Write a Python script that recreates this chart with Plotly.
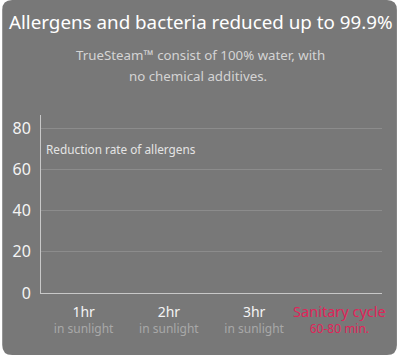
import plotly.graph_objects as go

categories = ["1hr", "2hr", "3hr", "Sanitary cycle"]
sublabels = ["in sunlight", "in sunlight", "in sunlight", "60-80 min."]
values = [0, 0, 0, 0]
yticks = [0, 20, 40, 60, 80]
title = "Allergens and bacteria reduced up to 99.9%"
subtitle_lines = ["TrueSteam\u2122 consist of 100% water, with", "no chemical additives."]
series_label = "Reduction rate of allergens"

W, H = 397, 355
L, R, T, B = 39, 15, 115, 62
pw, ph = W - L - R, H - T - B

def px(x):
    return (x - L) / pw

def py(y):
    return (H - B - y) / ph

FONT = "Noto Sans"
BG = "#787878"
RED = "#e0245a"

ticktext = []
for i, (c, s) in enumerate(zip(categories, sublabels)):
    if i == len(categories) - 1:
        ticktext.append(f"<span style='font-size:14.5px;color:{RED}'>{c}</span><br><span style='font-size:12px;color:{RED}'>{s}</span>")
    else:
        ticktext.append(f"<span style='font-size:14px;color:#f4f4f4'>{c}</span><br><span style='font-size:12px;color:#a8a8a8'>{s}</span>")

fig = go.Figure(go.Bar(x=categories, y=values, marker=dict(color="#c4184a", line=dict(width=0)),
                       width=0.5, hoverinfo="skip"))

# rounded background panel
r = 10
x0, x1, y0, y1 = 0, W, 0, H
path = (f"M {px(x0 + r)},{py(y0)} L {px(x1 - r)},{py(y0)} Q {px(x1)},{py(y0)} {px(x1)},{py(y0 + r)} "
        f"L {px(x1)},{py(y1 - r)} Q {px(x1)},{py(y1)} {px(x1 - r)},{py(y1)} "
        f"L {px(x0 + r)},{py(y1)} Q {px(x0)},{py(y1)} {px(x0)},{py(y1 - r)} "
        f"L {px(x0)},{py(y0 + r)} Q {px(x0)},{py(y0)} {px(x0 + r)},{py(y0)} Z")

fig.update_layout(
    width=W, height=H,
    margin=dict(l=L, r=R, t=T, b=B, pad=0),
    paper_bgcolor="white",
    plot_bgcolor="rgba(0,0,0,0)",
    showlegend=False,
    font=dict(family=FONT, color="#f0f0f0"),
    shapes=[dict(type="path", path=path, xref="paper", yref="paper",
                 fillcolor=BG, line=dict(width=0), layer="below")],
    xaxis=dict(
        tickmode="array", tickvals=categories, ticktext=ticktext,
        showgrid=False, showline=True, linecolor="#c8c8c8", linewidth=1,
        ticks="", tickfont=dict(size=12, family=FONT), ticklabelstandoff=9,
        fixedrange=True,
    ),
    yaxis=dict(
        range=[0, 86.5], tickvals=yticks, showgrid=True, gridcolor="#8c8c8c", gridwidth=1,
        showline=True, linecolor="#c8c8c8", linewidth=1, zeroline=False,
        ticks="outside", ticklen=6, tickcolor="rgba(0,0,0,0)",
        tickfont=dict(size=16, color="#f4f4f4", family=FONT),
    ),
    annotations=[
        dict(text=title, x=px(199.5), y=py(22), xref="paper", yref="paper", showarrow=False,
             xanchor="center", yanchor="middle", font=dict(size=18.8, color="#ffffff", family=FONT)),
        dict(text=subtitle_lines[0], x=px(199), y=py(55), xref="paper", yref="paper", showarrow=False,
             xanchor="center", yanchor="middle", font=dict(size=13.3, color="#d4d4d4", family=FONT)),
        dict(text=subtitle_lines[1], x=px(197), y=py(76), xref="paper", yref="paper", showarrow=False,
             xanchor="center", yanchor="middle", font=dict(size=13.3, color="#d4d4d4", family=FONT)),
        dict(text=series_label, x=px(42), y=py(149), xref="paper", yref="paper", showarrow=False,
             xanchor="left", yanchor="middle", font=dict(size=11.8, color="#e4e4e4", family=FONT)),
    ],
)

fig.write_html("out.html")
